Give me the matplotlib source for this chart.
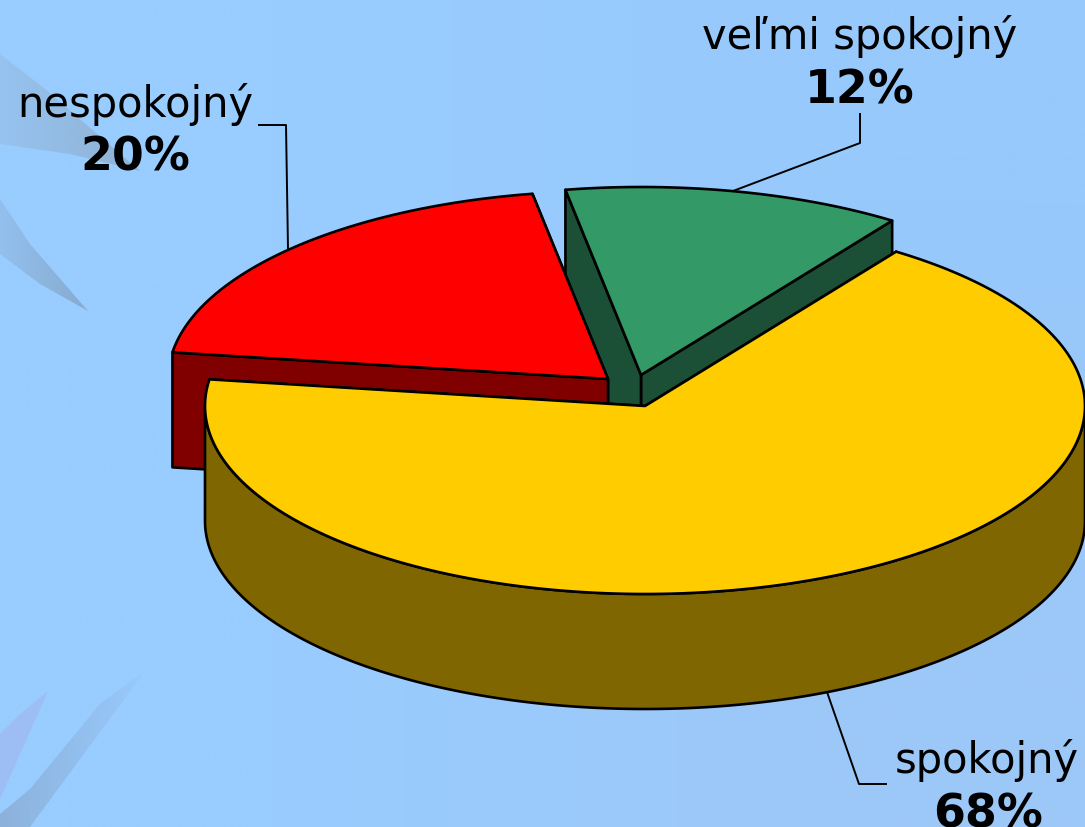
import numpy as np
import matplotlib
matplotlib.use('Agg')
import matplotlib.pyplot as plt
from matplotlib.patches import Polygon
from matplotlib.colors import to_rgb

labels = ['nespokojný', 'veľmi spokojný', 'spokojný']
values = [20, 12, 68]
percent_labels = ['20%', '12%', '68%']

# ----- look of the pie, in image pixels -----
top_colors = ['#FF0000', '#339966', '#FFCC00']
side_colors = ['#800000', '#1B4F36', '#806600']
centers = [(608, 380), (641, 376), (645, 407)]
draw_order = [1, 0, 2]
start_angle = 171.5
rx, ry = 440, 188
depth = 115

fig = plt.figure(figsize=(10.85, 8.28), dpi=100)
ax = fig.add_axes([0, 0, 1, 1])
ax.axis('off')

# background
bg = np.zeros((2, 2, 3))
bg[:, :] = to_rgb('#99CCFF')
bg[1, 1] = to_rgb('#9CC8F8')
bg[0, 1] = to_rgb('#97C9FC')
ax.imshow(bg, extent=(0, 1085, 828, 0), aspect='auto', interpolation='bilinear', zorder=0)


def soft_shape(xs, ys, color, a_left, a_right):
    # faint decoration, alpha changes from left to right
    x0, x1, y0, y1 = min(xs), max(xs), min(ys), max(ys)
    img = np.zeros((2, 64, 4))
    img[:, :, :3] = to_rgb(color)
    img[:, :, 3] = np.linspace(a_left, a_right, 64)
    im = ax.imshow(img, extent=(x0, x1, y1, y0), aspect='auto', interpolation='bilinear', zorder=1)
    clip = Polygon(np.c_[xs, ys], transform=ax.transData)
    im.set_clip_path(clip)


soft_shape([0, 45, 140, 70, 0], [55, 90, 172, 155, 145], '#8898A8', 0.18, 0.5)
soft_shape([0, 30, 88, 40, 0], [200, 245, 312, 285, 255], '#7890A8', 0.2, 0.55)
soft_shape([145, 100, 30, 0, 0, 30], [672, 705, 790, 815, 828, 828], '#8098B8', 0.5, 0.05)
soft_shape([48, 20, 0, 0], [692, 715, 735, 800], '#A8A0E0', 0.3, 0.3)


def ellipse_point(center, angle):
    # small warp, the original 3D view is not a plain ellipse
    a = np.radians(angle - 1.2 * np.sin(np.radians(2 * angle)))
    return center[0] + rx * np.cos(a), center[1] - ry * np.sin(a)


edges = start_angle - np.cumsum([0] + values) * 3.6
for i in draw_order:
    c = centers[i]
    a1, a2 = edges[i], edges[i + 1]
    z = 2 + draw_order.index(i)
    ang = np.linspace(a1, a2, 200)
    px, py = ellipse_point(c, ang)

    # cut walls
    for a in (a2, a1):
        ex, ey = ellipse_point(c, a)
        ax.fill([ex, c[0], c[0], ex], [ey, c[1], c[1] + depth, ey + depth],
                fc=side_colors[i], ec='black', lw=1.9, joinstyle='round', zorder=z)

    # outer wall, front half only
    if a2 < 0:
        front = np.linspace(max(a2, -180), min(a1, 0), 200)
        fx, fy = ellipse_point(c, front)
        ax.fill(np.r_[fx, fx[::-1]], np.r_[fy, fy[::-1] + depth],
                fc=side_colors[i], ec='black', lw=1.9, zorder=z)

    ax.fill(np.r_[c[0], px], np.r_[c[1], py], fc=top_colors[i], ec='black', lw=1.9,
            joinstyle='round', zorder=z)

# leader lines
ax.plot([259, 286, 288], [126, 126, 250], color='black', lw=1.4, zorder=1.5)
ax.plot([733, 860, 860], [192, 144, 115], color='black', lw=1.4, zorder=1.5)
ax.plot([827, 859, 886], [693, 785, 785], color='black', lw=1.4, zorder=1.5)

# labels
label_pos = [(135, 105), (860, 37), (987, 761)]
pct_pos = [(135, 158), (860, 91), (988, 815)]
for i in range(len(labels)):
    ax.text(label_pos[i][0], label_pos[i][1], labels[i], fontsize=30, color='black',
            ha='center', va='center', zorder=10)
    ax.text(pct_pos[i][0], pct_pos[i][1], percent_labels[i], fontsize=33, fontweight='bold',
            color='black', ha='center', va='center', zorder=10)

ax.set_xlim(0, 1085)
ax.set_ylim(828, 0)
fig.savefig('out.png', dpi=100)
